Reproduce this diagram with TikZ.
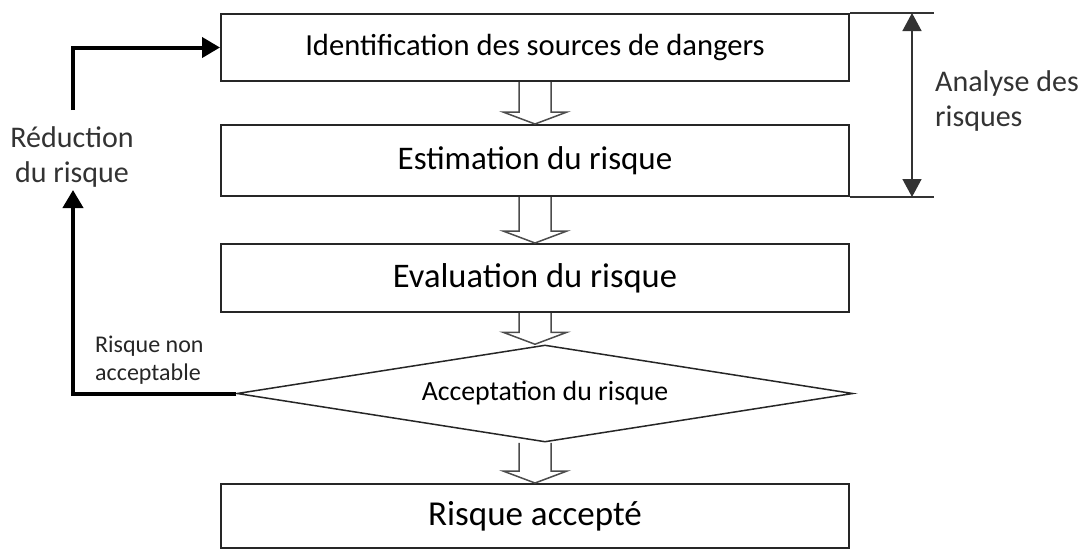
\documentclass[tikz,border=0pt]{standalone}
\usepackage{fontspec}
\setmainfont{Carlito}
\usetikzlibrary{shapes.geometric,arrows.meta,calc}
\newcommand{\blkarrow}[2]{\draw[hollow] ($(#1)+(-16,0)$) -- ($(#2)+(-16,-12)$) -- ($(#2)+(-32,-12)$) -- (#2) -- ($(#2)+(32,-12)$) -- ($(#2)+(16,-12)$) -- ($(#1)+(16,0)$);}
\begin{document}
\begin{tikzpicture}[x=1pt,y=-1pt,
  box/.style={draw=black!85, line width=2pt, minimum width=628pt, inner sep=0pt, text=black},
  hollow/.style={draw=black!70, line width=1.5pt},
  fb/.style={line width=4pt, -{Triangle[length=18pt,width=20pt]}},
  lbl/.style={font=\fontsize{30}{35}\selectfont, text=black!80, inner sep=0pt},
  small/.style={font=\fontsize{24}{28}\selectfont, text=black!85, inner sep=0pt, align=left},
  thinln/.style={draw=black!80, line width=1.5pt},
]
\useasboundingbox (0,0) rectangle (1086,552);
\node[box, minimum height=67pt, font=\fontsize{30.6}{36}\selectfont] (b1) at (535,47.5) {Identification des sources de dangers};
\node[box, minimum height=71pt, font=\fontsize{33}{36}\selectfont] (b2) at (535,160.5) {Estimation du risque};
\node[box, minimum height=68pt, font=\fontsize{34.5}{36}\selectfont] (b3) at (535,278) {Evaluation du risque};
\node[draw=black!85, diamond, line width=1.5pt, minimum width=616pt, minimum height=97pt, inner sep=0pt, aspect=6.35, font=\fontsize{27.8}{30}\selectfont] (d) at (545,393.5) {Acceptation du risque};
\node[box, minimum height=64pt, font=\fontsize{35}{36}\selectfont] (b4) at (535,516) {Risque accepté};
% block arrows
\blkarrow{b1.south}{b2.north}
\blkarrow{b2.south}{b3.north}
\blkarrow{b3.south}{b3.south |- d.north}
\blkarrow{b4.north |- d.south}{b4.north}
% bracket
\coordinate (t1) at ($(b1.north east)+(84,0)$);
\coordinate (t2) at ($(b2.south east)+(84,0)$);
\coordinate (a1) at ($(b1.north east)+(62,0)$);
\coordinate (a2) at ($(b2.south east)+(62,0)$);
\draw[thinln] (b1.north east) -- (t1);
\draw[thinln] (b2.south east) -- (t2);
\draw[thinln, {Triangle[length=18pt,width=19pt]}-{Triangle[length=18pt,width=19pt]}] (a1) -- (a2);
\node[lbl, anchor=west, align=left] (ana) at (935,101) {Analyse des\\risques};
% feedback
\coordinate (r1) at (73,190);
\coordinate (r2) at (73,110);
\draw[fb] (d.west) -| (r1);
\draw[fb] (r2) |- (b1.west);
\node[lbl, align=center] (red) at (72,157) {Réduction\\du risque};
\node[small, anchor=west] (rna) at (95,360) {Risque non\\acceptable};
\end{tikzpicture}
\end{document}
